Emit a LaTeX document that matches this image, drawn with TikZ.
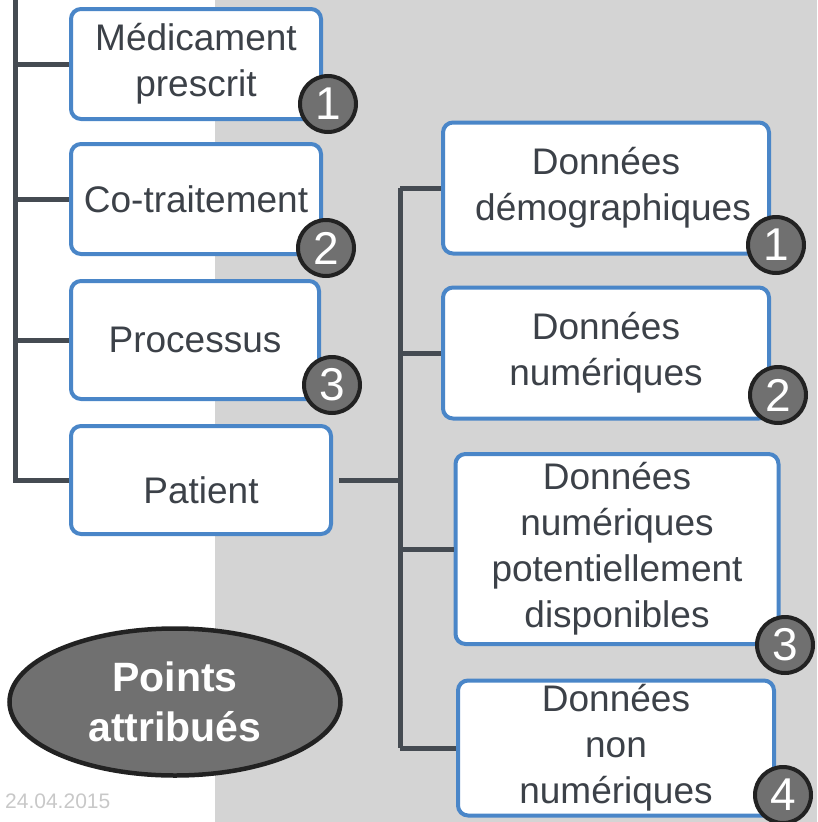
\documentclass[tikz,border=0pt]{standalone}
\usepackage{fontspec}
\setmainfont{Liberation Sans}
\usepackage{tikz}
\usetikzlibrary{shapes.geometric}

\definecolor{boxblue}{HTML}{4A86C8}
\definecolor{linegray}{HTML}{454B52}
\definecolor{txtgray}{HTML}{3C4148}
\definecolor{badgefill}{HTML}{707070}
\definecolor{badgeedge}{HTML}{222222}
\definecolor{bggray}{HTML}{D4D4D4}
\definecolor{dategray}{HTML}{C8C8C8}

\begin{document}
\begin{tikzpicture}[x=1pt, y=-1pt,
    box/.style={rectangle, rounded corners=10pt, draw=boxblue, line width=4pt, fill=white,
        align=center, text=txtgray, inner sep=0pt, font=\fontsize{37}{46}\selectfont},
    badge/.style={circle, draw=badgeedge, line width=4pt, fill=badgefill, minimum size=56pt,
        inner sep=0pt, text=white, font=\fontsize{46}{46}\selectfont},
    trunk/.style={draw=linegray, line width=5pt},
    pointsell/.style={ellipse, draw=badgeedge, line width=4.5pt, fill=badgefill, minimum width=331pt,
        minimum height=147pt, align=center, text=white, font=\bfseries\fontsize{41}{50}\selectfont}]

    \useasboundingbox (0,0) rectangle (817,822);
    \fill[bggray] (215,0) rectangle (817,822);

    % left column
    \node[box, minimum width=250pt, minimum height=110pt] (med) at (196,64) {M\'edicament\\prescrit};
    \node[box, minimum width=250pt, minimum height=110pt] (cot) at (196,199) {Co-traitement};
    \node[box, minimum width=248pt, minimum height=118pt] (proc) at (195,340) {Processus};
    \node[box, minimum width=260pt, minimum height=108pt, text height=47pt] (pat) at (201,480) {Patient};

    % right column
    \node[box, minimum width=326pt, minimum height=131pt] (demo) at (606,188) {Donn\'ees\\\hspace*{14pt}d\'emographiques};
    \node[box, minimum width=326pt, minimum height=131pt] (num) at (606,353) {Donn\'ees\\num\'eriques};
    \node[box, minimum width=323pt, minimum height=190pt] (pot) at (617,549) {Donn\'ees\\num\'eriques\\potentiellement\\disponibles};
    \node[box, minimum width=316pt, minimum height=135pt] (non) at (616,748) {Donn\'ees\\non\\num\'eriques};

    \coordinate (lx) at (15,0);
    \coordinate (rx) at (400,0);

    \draw[trunk] (lx) |- (pat.west);
    \foreach \n in {med,cot,proc}
        \draw[trunk] (\n.west -| lx) -- (\n.west);
    \draw[trunk, shorten <=6pt] (pat.east) -- (pat.east -| rx);
    \draw[trunk] (demo.west -| rx) -- (non.west -| rx);
    \foreach \n in {demo,num,pot,non}
        \draw[trunk] (\n.west -| rx) -- (\n.west);

    % scores
    \node[badge] (b1) at (328,104) {1};
    \node[badge] (b2) at (326,248) {2};
    \node[badge] (b3) at (332,385) {3};
    \node[badge] (r1) at (776,245) {1};
    \node[badge] (r2) at (778,395) {2};
    \node[badge] (r3) at (785,645) {3};
    \node[badge] (r4) at (783,795) {4};

    \node[pointsell] (points) at (175,702) {Points\\attribu\'es};
    \node[text=dategray, font=\fontsize{21}{21}\selectfont, anchor=base west, inner sep=0pt] (date) at (5,808) {24.04.2015};
\end{tikzpicture}
\end{document}
